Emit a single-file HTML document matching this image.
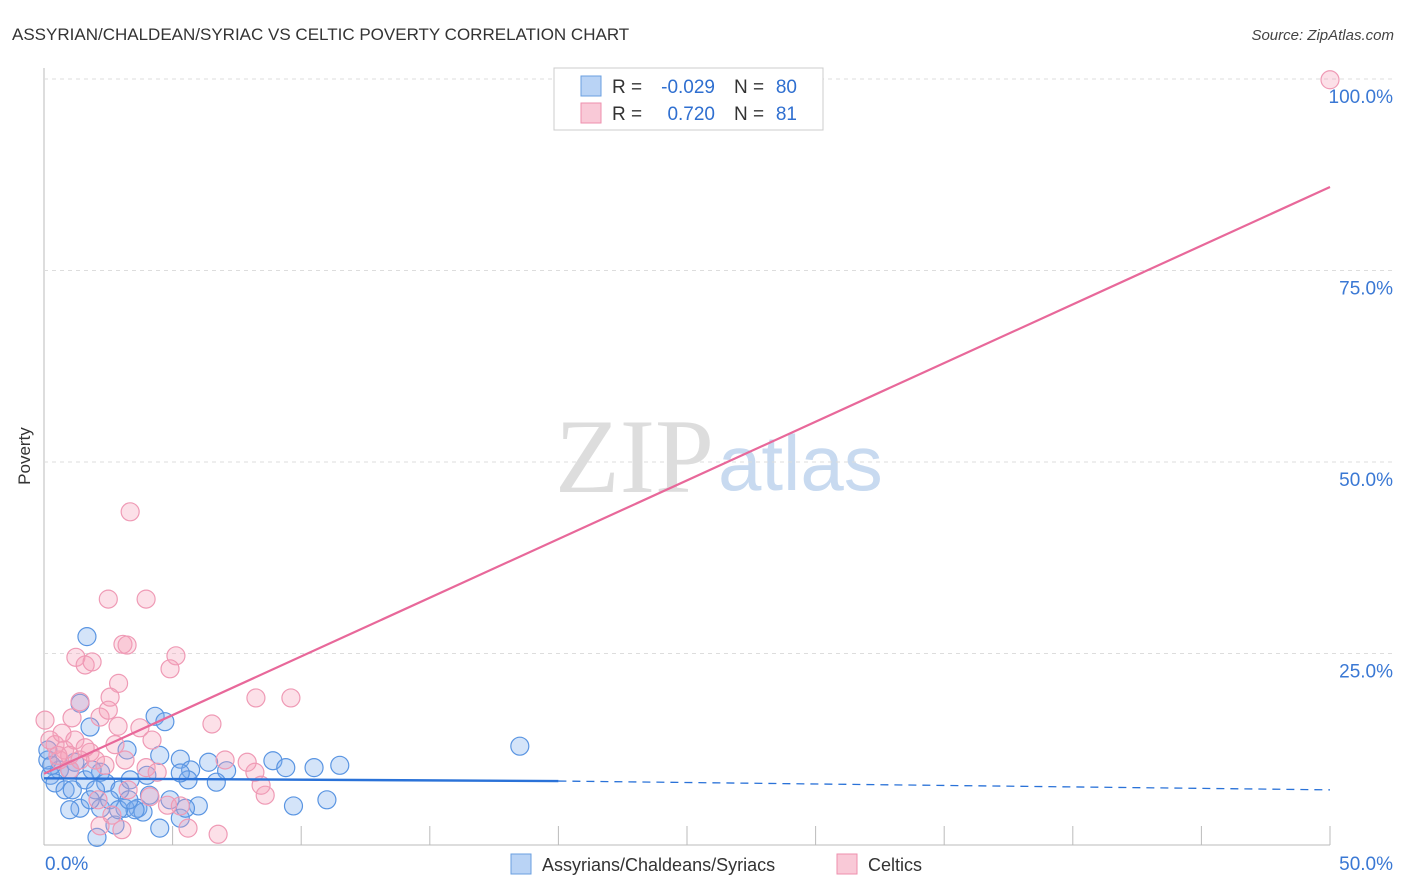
<!DOCTYPE html>
<html><head><meta charset="utf-8"><style>
body{margin:0;background:#fff;font-family:"Liberation Sans",sans-serif;}
svg{display:block}
</style></head><body>
<svg id="c" width="1406" height="892">
<text x="12" y="40" font-size="17" fill="#333">ASSYRIAN/CHALDEAN/SYRIAC VS CELTIC POVERTY CORRELATION CHART</text>
<text x="1394" y="40" font-size="15" fill="#444" text-anchor="end" font-style="italic">Source: ZipAtlas.com</text>
<text x="30" y="456" font-size="17" fill="#333" transform="rotate(-90 30 456)" text-anchor="middle">Poverty</text>
<text x="714" y="492" font-size="106" fill="#ddd" text-anchor="end" font-family="Liberation Serif">ZIP</text>
<text x="718" y="490" font-size="78" fill="#c8daf0">atlas</text>
<g id="grid"></g><g id="pts"></g><g id="lines"></g>
<g>
<rect x="554" y="68" width="269" height="62" fill="#fff" stroke="#ccc"/>
<rect x="581" y="76" width="20" height="20" fill="#b9d3f5" stroke="#6a9fe0"/>
<rect x="581" y="103" width="20" height="20" fill="#f9c9d7" stroke="#ee8fae"/>
<text x="612" y="93" font-size="19" fill="#333">R =</text>
<text x="715" y="93" font-size="19" fill="#2f6fd0" text-anchor="end">-0.029</text>
<text x="734" y="93" font-size="19" fill="#333">N =</text>
<text x="797" y="93" font-size="19" fill="#2f6fd0" text-anchor="end">80</text>
<text x="612" y="120" font-size="19" fill="#333">R =</text>
<text x="715" y="120" font-size="19" fill="#2f6fd0" text-anchor="end">0.720</text>
<text x="734" y="120" font-size="19" fill="#333">N =</text>
<text x="797" y="120" font-size="19" fill="#2f6fd0" text-anchor="end">81</text>
</g>
<g>
<rect x="511" y="854" width="20" height="20" fill="#b9d3f5" stroke="#6a9fe0"/>
<text x="542" y="871" font-size="18" fill="#333">Assyrians/Chaldeans/Syriacs</text>
<rect x="837" y="854" width="20" height="20" fill="#f9c9d7" stroke="#ee8fae"/>
<text x="868" y="871" font-size="18" fill="#333">Celtics</text>
</g>
</svg>
<script>
const yTicks=[25,50,75,100];
const yTickLabels=["25.0%","50.0%","75.0%","100.0%"];
const xTickVals=[0,5,10,15,20,25,30,35,40,45,50];
const blueX=[1.67,1.4,1.79,4.32,4.7,3.23,18.5,8.9,11.5,10.5,9.4,6.4,5.3,7.1,5.7,6.7,5.6,5.3,4.5,4.0,2.2,0.6,0.25,0.43,0.82,1.1,1.6,2.4,2.95,3.35,3.65,3.15,2.2,1.4,2.55,3.85,4.5,5.3,6.0,9.7,11.0,2.06,2.76,3.54,4.1,0.15,0.3,1.0,1.2,1.87,2.0,2.9,3.3,4.9,5.5,1.0,1.8,0.15];
const blueY=[27.2,18.5,15.4,16.8,16.1,12.4,12.9,11.0,10.4,10.1,10.1,10.8,11.2,9.7,9.8,8.2,8.5,9.4,11.7,9.1,9.5,9.8,9.1,8.1,7.2,7.2,8.5,8.1,7.2,8.5,4.8,4.8,4.8,4.8,5.9,4.3,2.2,3.5,5.1,5.1,5.9,1.0,2.6,4.6,6.5,11.1,10.4,9.8,10.8,9.8,7.2,4.6,5.9,5.9,4.8,4.6,5.9,12.4];
const pinkX=[3.35,2.5,3.97,3.07,3.23,1.24,1.6,1.87,5.13,4.9,2.9,2.57,1.4,8.24,9.6,1.09,2.18,2.5,6.53,2.88,3.73,4.2,2.76,1.79,3.97,4.4,7.04,8.2,8.6,8.44,7.9,4.8,5.3,5.6,6.77,3.03,2.18,2.64,4.12,1.0,0.6,0.8,0.43,0.23,0.7,1.2,1.6,2.0,2.37,1.0,0.54,1.4,0.04,50,2.1,3.27,3.15];
const pinkY=[43.5,32.1,32.1,26.2,26.1,24.5,23.5,23.9,24.7,23.0,21.1,19.3,18.7,19.2,19.2,16.6,16.7,17.6,15.8,15.5,15.3,13.7,13.1,12.1,10.1,9.5,11.1,9.5,6.5,7.8,10.8,5.2,5.1,2.2,1.4,2.0,2.5,3.9,6.3,9.8,11.1,12.4,13.1,13.7,14.6,13.7,12.7,11.1,10.4,11.7,11.7,11.1,16.3,99.9,5.9,7.2,11.1];
const pinkTrend=[9.3,85.9];
const blueTrend=[8.7,8.35,7.2];
const NS="http://www.w3.org/2000/svg";
const X=v=>44+v*25.72, Y=v=>845-v*7.66;
function mk(t,a,p){const e=document.createElementNS(NS,t);for(const k in a)e.setAttribute(k,a[k]);p.appendChild(e);return e;}
const g=document.getElementById('grid'),P=document.getElementById('pts'),L=document.getElementById('lines');
let ax=mk('line',{x1:44,y1:68,x2:44,y2:845,stroke:'#bbb'},g);


let bx=mk('line',{x1:44,y1:845,x2:1330,y2:845,stroke:'#bbb'},g);


yTicks.forEach((t,i)=>{
 const l=mk('line',{x1:44,x2:1394,y1:Y(t),y2:Y(t),stroke:'#ddd','stroke-dasharray':'4,4'},g);
 
 
 const tx=mk('text',{x:1393,y:Y(t)+24,'font-size':19,fill:'#3a78d4','text-anchor':'end'},g);
 tx.textContent=yTickLabels[i];
 
 
});
xTickVals.forEach(v=>{
 const l=mk('line',{x1:X(v),x2:X(v),y1:826,y2:845,stroke:'#bbb'},g);
 
 
});
let x0=mk('text',{x:45,y:870,'font-size':19,fill:'#3a78d4'},g);x0.textContent='0.0%';


let x1=mk('text',{x:1393,y:870,'font-size':19,fill:'#3a78d4','text-anchor':'end'},g);x1.textContent='50.0%';


blueX.forEach((v,i)=>{
 const c=mk('circle',{cx:X(v),cy:Y(blueY[i]),r:9,fill:'rgba(120,170,235,0.32)',stroke:'#5a95e2','stroke-width':1.2},P);
 
 
});
pinkX.forEach((v,i)=>{
 const c=mk('circle',{cx:X(v),cy:Y(pinkY[i]),r:9,fill:'rgba(245,160,185,0.32)',stroke:'#ef9ab5','stroke-width':1.2},P);
 
 
});
let pl=mk('line',{x1:X(0),y1:Y(pinkTrend[0]),x2:X(50),y2:Y(pinkTrend[1]),stroke:'#e8689a','stroke-width':2.2},L);


let bl=mk('line',{x1:X(0),y1:Y(blueTrend[0]),x2:X(20),y2:Y(blueTrend[1]),stroke:'#2a72d8','stroke-width':2.4},L);


let bd=mk('line',{x1:X(20),y1:Y(blueTrend[1]),x2:X(50),y2:Y(blueTrend[2]),stroke:'#2a72d8','stroke-width':1.3,'stroke-dasharray':'8,6'},L);


</script>
</body></html>
